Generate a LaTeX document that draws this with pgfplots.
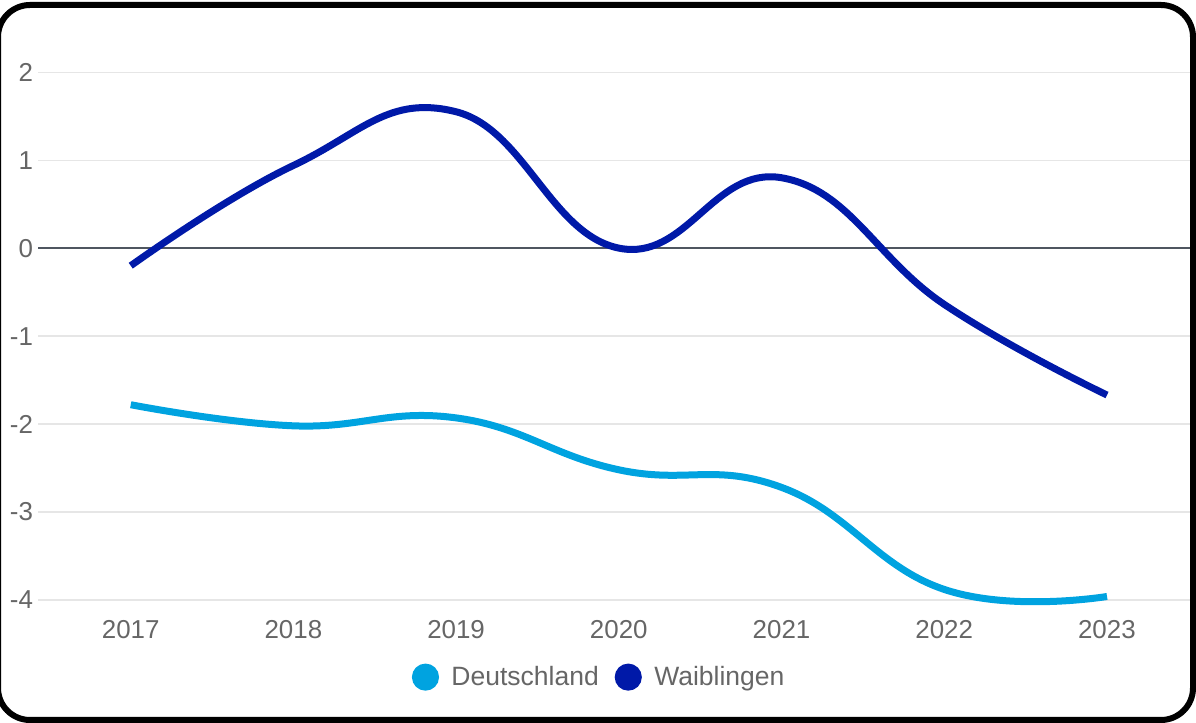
\documentclass[border=0pt]{standalone}
\usepackage{pgfplots}
\pgfplotsset{compat=1.18}
\usepackage{fontspec}
\setmainfont{Liberation Sans}
\definecolor{de}{HTML}{00A3E0}
\definecolor{wa}{HTML}{0019A8}
\definecolor{ticktext}{HTML}{666666}
\definecolor{gridc}{HTML}{E6E6E6}
\definecolor{zeroc}{HTML}{4F5660}
\begin{document}
\begin{tikzpicture}
\path[use as bounding box] (0bp,0bp) rectangle (598bp,361.5bp);
\begin{scope}
\clip (0bp,0bp) rectangle (598bp,361.5bp);
\draw[line width=3bp, rounded corners=16bp] (-1bp,1.5bp) rectangle (596.5bp,359bp);
\end{scope}
\begin{axis}[at={(19bp,61.5bp)}, anchor=south west, scale only axis,
  width=576bp, height=281.5bp,
  xmin=2016.43, xmax=2023.51, ymin=-4, ymax=2.4,
  axis line style={draw=none}, major tick length=0pt,
  xtick={2017,...,2023}, ytick={-4,...,2},
  ymajorgrids, grid style={gridc, line width=0.6bp},
  /pgf/number format/1000 sep={},
  /pgf/number format/assume math mode=true,
  tick label style={font=\fontsize{13}{15}\selectfont, text=ticktext},
  xticklabel style={yshift=-6.5bp},
  yticklabel style={xshift=1bp},
  legend style={at={(0.488,-0.137)}, anchor=center, draw=none, fill=none,
    font=\fontsize{13.3}{15}\selectfont, text=ticktext, legend columns=2,
    /tikz/every even column/.append style={column sep=6bp}},
  legend image code/.code={\path[draw=none] (0bp,0bp) -- (16bp,0bp); \fill (5bp,0bp) circle (5bp);},
  clip=false]
\draw[zeroc, line width=0.75bp] (axis cs:2016.43,0) -- (axis cs:2023.51,0);
\addplot[de, line width=3.5bp, smooth, tension=0.75] coordinates {
(2017,-1.78) (2018,-2.02) (2019,-1.93) (2020,-2.52) (2021,-2.72) (2022,-3.88) (2023,-3.96)};
\addlegendentry{Deutschland}
\addplot[wa, line width=3.5bp, smooth, tension=0.75] coordinates {
(2017,-0.2) (2018,0.94) (2019,1.55) (2020,0.0) (2021,0.8) (2022,-0.64) (2023,-1.67)};
\addlegendentry{Waiblingen}
\end{axis}
\end{tikzpicture}
\end{document}
